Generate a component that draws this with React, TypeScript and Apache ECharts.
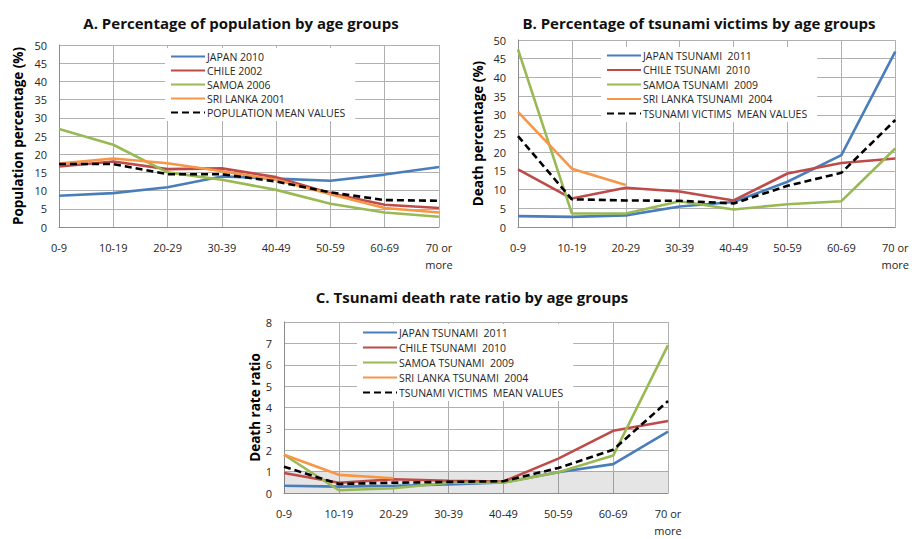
import React, { useEffect, useRef } from "react";
import * as echarts from "echarts";

const categories = ["0-9", "10-19", "20-29", "30-39", "40-49", "50-59", "60-69", "70 or\nmore"];

// A. Percentage of population by age groups
const popNames = ["JAPAN 2010", "CHILE 2002", "SAMOA 2006", "SRI LANKA 2001", "POPULATION MEAN VALUES"];
const popJapan = [8.6, 9.3, 10.9, 13.9, 13.3, 12.7, 14.4, 16.5];
const popChile = [16.6, 18.0, 15.9, 16.1, 13.7, 9.3, 6.1, 5.2];
const popSamoa = [26.9, 22.6, 15.0, 13.0, 10.2, 6.4, 4.0, 2.8];
const popSriLanka = [17.4, 18.8, 17.5, 15.3, 13.0, 9.0, 5.2, 4.0];
const popMean = [17.3, 17.3, 14.5, 14.5, 12.5, 9.5, 7.4, 7.2];

// B. Percentage of tsunami victims by age groups
const tsuNames = ["JAPAN TSUNAMI  2011", "CHILE TSUNAMI  2010", "SAMOA TSUNAMI  2009", "SRI LANKA TSUNAMI  2004", "TSUNAMI VICTIMS  MEAN VALUES"];
const vicJapan = [2.9, 2.7, 3.1, 5.5, 6.7, 12.1, 19.2, 46.9];
const vicChile = [15.4, 7.6, 10.5, 9.5, 7.1, 14.3, 17.1, 18.3];
const vicSamoa = [47.5, 3.6, 3.6, 6.9, 4.7, 6.1, 6.9, 21.0];
const vicSriLanka = [30.8, 15.6, 11.2, null, null, null, null, null];
const vicMean = [24.3, 7.4, 7.1, 7.0, 6.3, 11.0, 14.5, 28.6];

// C. Tsunami death rate ratio by age groups
const ratJapan = [0.34, 0.3, 0.34, 0.4, 0.49, 0.97, 1.35, 2.87];
const ratChile = [0.94, 0.48, 0.64, 0.57, 0.54, 1.61, 2.91, 3.37];
const ratSamoa = [1.79, 0.13, 0.22, 0.48, 0.48, 0.97, 1.75, 6.92];
const ratSriLanka = [1.79, 0.85, 0.69, null, null, null, null, null];
const ratMean = [1.23, 0.42, 0.48, 0.52, 0.55, 1.17, 2.02, 4.3];

const colors = ["#4A7EBB", "#BE4B48", "#98B954", "#F79646", "#000000"];
const FONT = "'Open Sans', 'Noto Sans', sans-serif";

function makeSeries(names: string[], data: (number | null)[][], idx: number, extra?: any) {
  return data.map((d, i) => {
    const s: any = {
      type: "line",
      name: names[i],
      xAxisIndex: idx,
      yAxisIndex: idx,
      data: d,
      symbol: "none",
      showSymbol: false,
      connectNulls: false,
      lineStyle: {
        color: colors[i],
        width: 2.6,
        type: i === 4 ? [7, 4] : "solid",
      },
      itemStyle: { color: colors[i] },
      z: i === 4 ? 5 : 3,
    };
    if (extra && i === 0) Object.assign(s, extra);
    return s;
  });
}

function xAxis(idx: number) {
  return {
    type: "category",
    gridIndex: idx,
    data: categories,
    boundaryGap: false,
    axisLine: { show: true, lineStyle: { color: "#8c8c8c", width: 1 } },
    axisTick: { show: false },
    splitLine: { show: true, lineStyle: { color: "#b0b0b0", width: 1 } },
    axisLabel: { color: "#262626", fontFamily: FONT, fontSize: 11, margin: 12, lineHeight: 17, interval: 0 },
  };
}

function yAxis(idx: number, max: number, interval: number, name: string, nameGap: number) {
  return {
    type: "value",
    gridIndex: idx,
    min: 0,
    max,
    interval,
    name,
    nameLocation: "middle",
    nameGap,
    nameTextStyle: { fontFamily: FONT, fontSize: 13.5, fontWeight: "bold", color: "#000" },
    axisLine: { show: true, lineStyle: { color: "#8c8c8c", width: 1 } },
    axisTick: { show: false },
    splitLine: { show: true, lineStyle: { color: "#b0b0b0", width: 1 } },
    axisLabel: { color: "#262626", fontFamily: FONT, fontSize: 11, margin: 12 },
  };
}

function legend(names: string[], left: number, top: number, gap: number) {
  return {
    orient: "vertical",
    left,
    top,
    data: names,
    itemWidth: 34,
    itemHeight: 12,
    itemGap: gap,
    padding: [3, 10, 3, 5],
    backgroundColor: "#ffffff",
    itemStyle: { opacity: 0 },
    textStyle: { fontFamily: FONT, fontSize: 10.5, color: "#262626", padding: [0, 0, 0, -3] },
    selectedMode: false,
  };
}

export default function App() {
  const ref = useRef<HTMLDivElement>(null);
  useEffect(() => {
    if (!ref.current) return;
    const chart = echarts.init(ref.current, null, { renderer: "svg" });
    const titleStyle = { fontFamily: FONT, fontSize: 15, fontWeight: "bold", color: "#111" };
    chart.setOption({
      animation: false,
      backgroundColor: "#ffffff",
      title: [
        { text: "A. Percentage of population by age groups", left: 236, top: 10, textAlign: "center", textStyle: titleStyle },
        { text: "B. Percentage of tsunami victims by age groups", left: 694, top: 10, textAlign: "center", textStyle: titleStyle },
        { text: "C. Tsunami death rate ratio by age groups", left: 467, top: 284, textAlign: "center", textStyle: titleStyle },
      ],
      grid: [
        { left: 59, top: 45, width: 380, height: 182 },
        { left: 518, top: 40, width: 380, height: 187 },
        { left: 284, top: 322, width: 384, height: 178 },
      ],
      xAxis: [xAxis(0), xAxis(1), xAxis(2)],
      yAxis: [
        yAxis(0, 50, 5, "Population percentage (%)", 34),
        yAxis(1, 50, 5, "Death percentage (%)", 33),
        yAxis(2, 8, 1, "Death rate ratio", 22),
      ],
      legend: [
        { ...legend(popNames, 165, 48, 3) },
        { ...legend(tsuNames, 601, 47, 3.5) },
        { ...legend(tsuNames, 357, 324, 4) },
      ].map((l, i) => ({ ...l, id: "lg" + i })),
      series: [
        ...makeSeries(popNames, [popJapan, popChile, popSamoa, popSriLanka, popMean], 0),
        ...makeSeries(tsuNames, [vicJapan, vicChile, vicSamoa, vicSriLanka, vicMean], 1),
        ...makeSeries(tsuNames, [ratJapan, ratChile, ratSamoa, ratSriLanka, ratMean], 2, {
          markArea: {
            silent: true,
            itemStyle: { color: "rgba(0,0,0,0.1)" },
            data: [[{ yAxis: 0 }, { yAxis: 1 }]],
          },
        }),
      ],
    });
    return () => chart.dispose();
  }, []);
  return <div ref={ref} style={{ position: "fixed", left: 0, top: 0, width: 912, height: 539 }} />;
}
